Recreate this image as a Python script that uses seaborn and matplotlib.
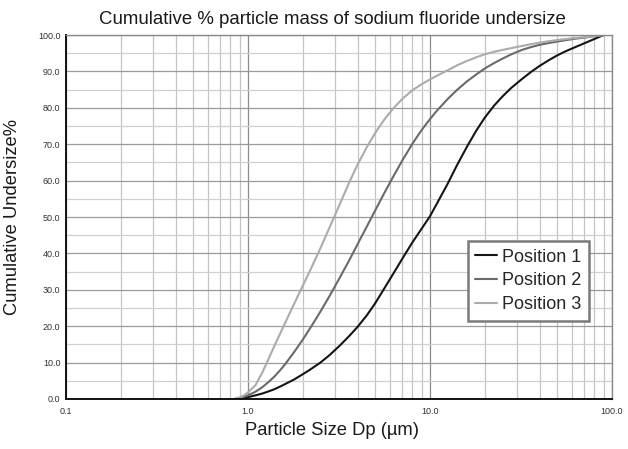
import matplotlib

matplotlib.use("Agg")

import matplotlib.pyplot as plt
import matplotlib.ticker as mticker
import pandas as pd
import seaborn as sns

# Particle size bins (um) and cumulative undersize % per sampling position
sizes = [0.85, 0.9, 0.95, 1.0, 1.1, 1.2, 1.3, 1.4, 1.5, 1.6, 1.8, 2.0, 2.2, 2.5, 2.8,
         3.2, 3.6, 4.0, 4.5, 5.0, 5.6, 6.3, 7.1, 8.0, 9.0, 10.0, 11.0, 12.5, 14.0, 16.0,
         18.0, 20.0, 22.5, 25.0, 28.0, 32.0, 36.0, 40.0, 45.0, 50.0, 56.0, 63.0, 71.0,
         80.0, 90.0]
position_1 = [0.0, 0.1, 0.25, 0.5, 1.0, 1.5, 2.1, 2.7, 3.4, 4.1, 5.4, 6.8, 8.1, 10.0, 12.0,
              14.7, 17.3, 19.8, 23.0, 26.3, 30.3, 34.5, 38.8, 43.0, 46.8, 50.2, 54.0, 59.1,
              64.0, 69.4, 73.8, 77.3, 80.6, 83.1, 85.5, 87.9, 89.9, 91.5, 93.1, 94.4, 95.6,
              96.7, 97.8, 98.9, 100.0]
position_2 = [0.0, 0.3, 0.6, 1.0, 2.0, 3.25, 4.7, 6.2, 7.85, 9.55, 13.0, 16.3, 19.5, 24.0,
              28.2, 33.4, 38.1, 42.5, 47.4, 51.8, 56.5, 61.2, 65.8, 70.1, 73.9, 76.9, 79.4,
              82.4, 84.8, 87.3, 89.2, 90.8, 92.3, 93.5, 94.7, 95.9, 96.7, 97.3, 97.8, 98.2,
              98.6, 99.0, 99.3, 99.7, 100.0]
position_3 = [0.1, 0.4, 1.0, 1.8, 3.8, 7.3, 11.1, 14.7, 17.9, 20.9, 26.3, 31.1, 35.4, 41.4,
              47.0, 53.6, 59.5, 64.4, 69.2, 73.1, 76.7, 79.9, 82.6, 84.8, 86.5, 87.8, 88.9,
              90.3, 91.6, 92.9, 93.9, 94.7, 95.4, 95.9, 96.4, 97.0, 97.5, 97.9, 98.3, 98.6,
              98.9, 99.2, 99.4, 99.7, 100.0]

series_names = ["Position 1", "Position 2", "Position 3"]
series_colors = ["#151515", "#6a6a6a", "#ababab"]

x_ticks = [0.1, 1.0, 10.0, 100.0]
y_ticks = [0, 10, 20, 30, 40, 50, 60, 70, 80, 90, 100]


def main() -> None:
    sns.set_style("white")
    plt.rcParams["font.family"] = ["Liberation Sans", "DejaVu Sans"]

    frames = []
    for name, values in zip(series_names, [position_1, position_2, position_3]):
        frames.append(pd.DataFrame({"size": sizes, "pct": values, "series": name}))
    df = pd.concat(frames, ignore_index=True)

    fig = plt.figure(figsize=(6.28, 4.49), dpi=100)
    ax = fig.add_axes([0.105, 0.1114, 0.8695, 0.8106])

    sns.lineplot(data=df, x="size", y="pct", hue="series", palette=series_colors,
                 linewidth=1.5, ax=ax, legend=True)

    ax.set_xscale("log")
    ax.set_xlim(0.1, 100)
    ax.set_ylim(0, 100)

    ax.xaxis.set_major_locator(mticker.FixedLocator(x_ticks))
    ax.xaxis.set_major_formatter(mticker.FixedFormatter([f"{v:.1f}" for v in x_ticks]))
    ax.xaxis.set_minor_locator(mticker.LogLocator(base=10, subs=range(2, 10)))
    ax.xaxis.set_minor_formatter(mticker.NullFormatter())
    ax.yaxis.set_major_locator(mticker.FixedLocator(y_ticks))
    ax.yaxis.set_major_formatter(mticker.FormatStrFormatter("%.1f"))
    ax.yaxis.set_minor_locator(mticker.MultipleLocator(5))

    ax.grid(which="major", axis="x", color="#8c8c8c", linewidth=0.9)
    ax.grid(which="minor", axis="x", color="#c4c4c4", linewidth=0.9)
    ax.grid(which="major", axis="y", color="#9a9a9a", linewidth=0.9)
    ax.grid(which="minor", axis="y", color="#d0d0d0", linewidth=0.9)
    ax.set_axisbelow(True)

    ax.tick_params(which="both", length=0, labelsize=6.5, labelcolor="#333333")
    ax.tick_params(axis="x", pad=6)
    ax.tick_params(axis="y", pad=4)

    for side in ["left", "bottom"]:
        ax.spines[side].set_color("#111111")
        ax.spines[side].set_linewidth(1.4)
    for side in ["top", "right"]:
        ax.spines[side].set_color("#8a8a8a")
        ax.spines[side].set_linewidth(1.0)

    ax.set_title("Cumulative % particle mass of sodium fluoride undersize",
                 fontsize=13.4, color="#1a1a1a", pad=8, x=0.488)
    ax.set_xlabel("Particle Size Dp (\u00b5m)", fontsize=13.2, color="#1a1a1a", labelpad=4)
    ax.xaxis.label.set_x(0.487)
    ax.set_ylabel("Cumulative Undersize%", fontsize=13.2, color="#1a1a1a", labelpad=12)

    leg = ax.legend(loc="upper left", bbox_to_anchor=(0.736, 0.434), fontsize=13,
                    frameon=True, fancybox=False, handlelength=1.2, handletextpad=0.3,
                    borderpad=0.42, labelspacing=0.38, borderaxespad=0)
    leg.get_frame().set_edgecolor("#7a7a7a")
    leg.get_frame().set_linewidth(1.8)
    leg.get_frame().set_facecolor("white")
    leg.get_frame().set_alpha(1)

    fig.savefig("out.png", dpi=100)
    plt.close(fig)


if __name__ == "__main__":
    main()
